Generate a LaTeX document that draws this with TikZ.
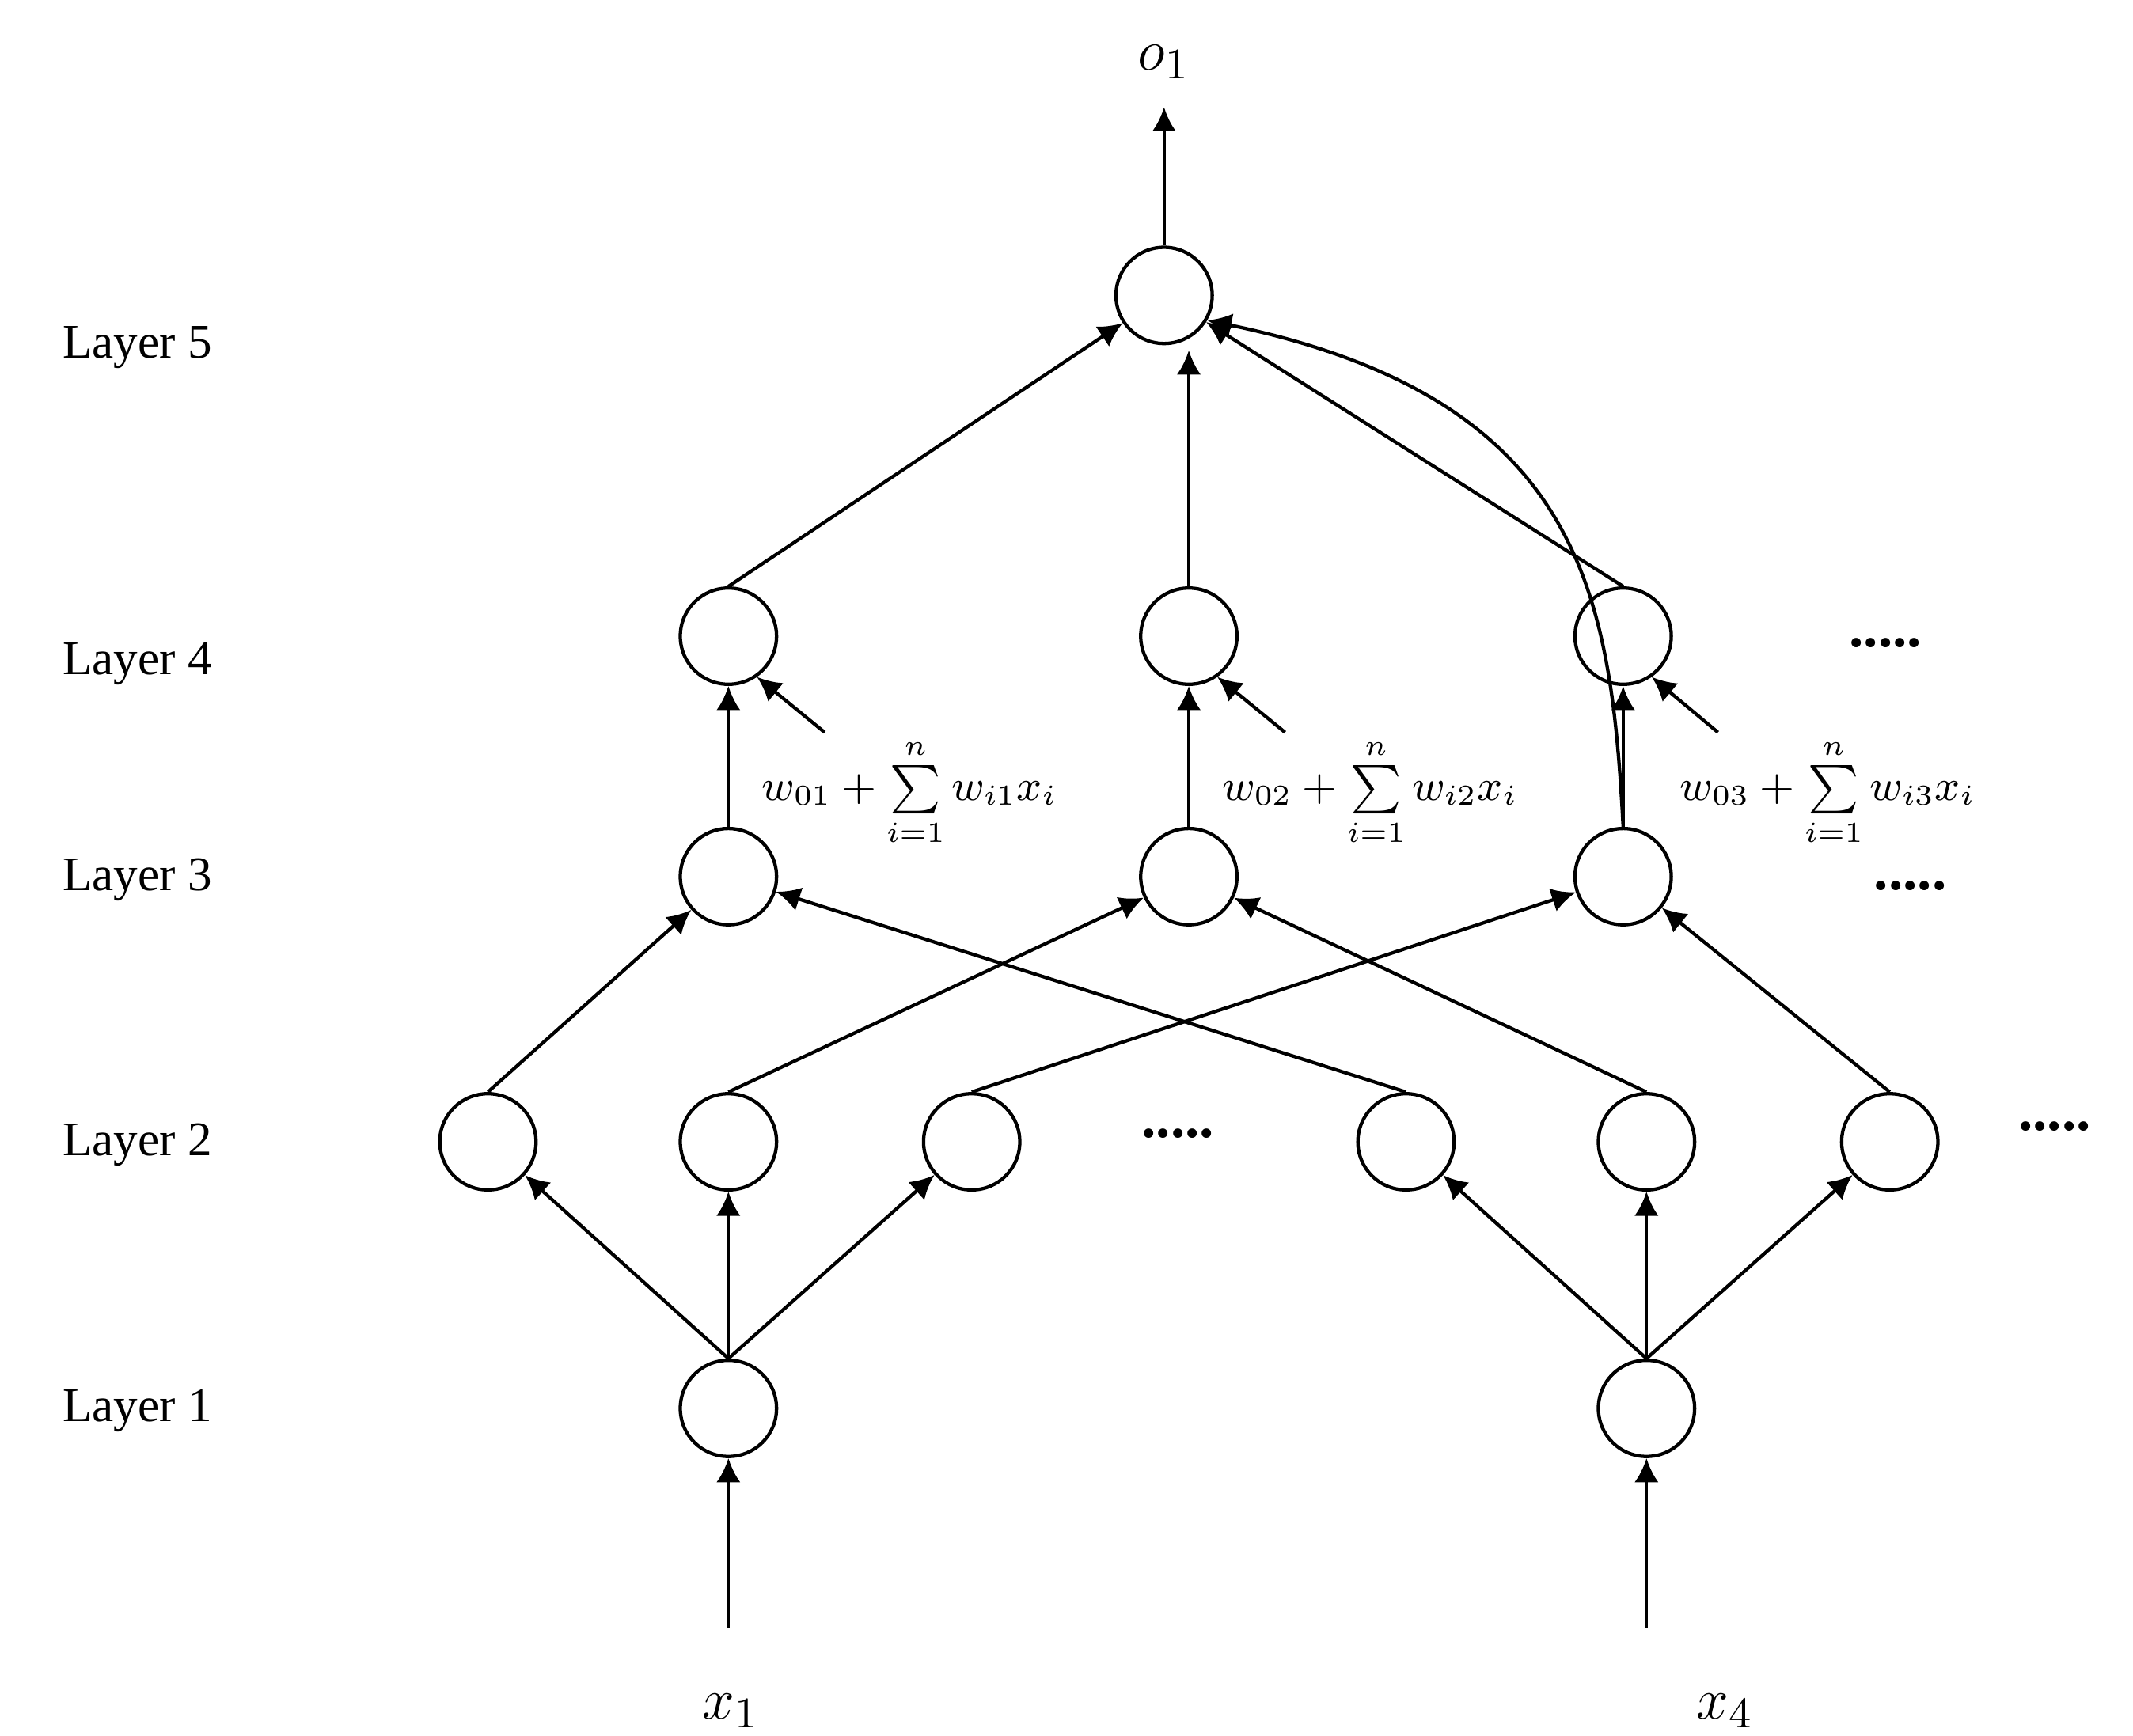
\documentclass[tikz,border=0pt]{standalone}
\usepackage{fontspec}
\setmainfont{Liberation Serif}
\usetikzlibrary{arrows.meta}
\begin{document}
\begin{tikzpicture}[x=0.01cm,y=-0.01cm,
  neuron/.style={circle,draw,line width=0.7pt,minimum size=0.7cm,inner sep=0pt},
  conn/.style={line width=0.7pt,-{Latex[length=5pt,width=5pt]}},
  lbl/.style={font=\fontsize{10}{12}\selectfont},
  fml/.style={font=\fontsize{9}{11}\selectfont},
  dotsl/.style={font=\fontsize{12}{12}\selectfont\bfseries}]
\useasboundingbox (0,0) rectangle (1552,1263);
\node[lbl] (L5) at (100,253) {Layer 5};
\node[lbl] (L4) at (100,483) {Layer 4};
\node[lbl] (L3) at (100,640) {Layer 3};
\node[lbl] (L2) at (100,833) {Layer 2};
\node[lbl] (L1) at (100,1027) {Layer 1};
\node[neuron] (o) at (847,215) {};
\node[neuron] (d1) at (530,463) {};
\node[neuron] (d2) at (865,463) {};
\node[neuron] (d3) at (1181,463) {};
\node[neuron] (c1) at (530,638) {};
\node[neuron] (c2) at (865,638) {};
\node[neuron] (c3) at (1181,638) {};
\node[neuron] (b1) at (355,831) {};
\node[neuron] (b2) at (530,831) {};
\node[neuron] (b3) at (707,831) {};
\node[neuron] (b4) at (1023,831) {};
\node[neuron] (b5) at (1198,831) {};
\node[neuron] (b6) at (1375,831) {};
\node[neuron] (a1) at (530,1025) {};
\node[neuron] (a2) at (1198,1025) {};
\coordinate (i1) at (530,1185);
\coordinate (i2) at (1198,1185);
\coordinate (top) at (847,78);
\coordinate (mid) at (865,255);
\node[lbl,font=\fontsize{13}{14}\selectfont] (x1) at (532,1245) {$x_1$};
\node[lbl,font=\fontsize{13}{14}\selectfont] (x4) at (1255,1245) {$x_4$};
\node[lbl,font=\fontsize{13}{14}\selectfont] (o1) at (847,45) {$o_1$};
\draw[conn] (i1) -- (a1);
\draw[conn] (i2) -- (a2);
\foreach \t in {b1,b2,b3} \draw[conn] (a1.north) -- (\t);
\foreach \t in {b4,b5,b6} \draw[conn] (a2.north) -- (\t);
\draw[conn] (b1.north) -- (c1);
\draw[conn] (b2.north) -- (c2);
\draw[conn] (b3.north) -- (c3);
\draw[conn] (b4.north) -- (c1);
\draw[conn] (b5.north) -- (c2);
\draw[conn] (b6.north) -- (c3);
\draw[conn] (c1) -- (d1);
\draw[conn] (c2) -- (d2);
\draw[conn] (c3) -- (d3);
\draw[conn] (d1.north) -- (o);
\draw[conn] (d2.north) -- (mid);
\draw[conn] (d3.north) -- (o);
\draw[conn] (c3.north) .. controls (1172,430) and (1150,290) .. (o.-30);
\draw[conn] (o.north) -- (top);
\coordinate (p1) at (600,533);
\coordinate (p2) at (935,533);
\coordinate (p3) at (1250,533);
\draw[conn] (p1) -- (d1.-55);
\draw[conn] (p2) -- (d2.-55);
\draw[conn] (p3) -- (d3.-55);
\node[fml] (f1) at (662,577) {$w_{01}+\sum\limits_{i=1}^{n} w_{i1}x_i$};
\node[fml] (f2) at (997,577) {$w_{02}+\sum\limits_{i=1}^{n} w_{i2}x_i$};
\node[fml] (f3) at (1330,577) {$w_{03}+\sum\limits_{i=1}^{n} w_{i3}x_i$};
\node[dotsl] (e1) at (1372,468) {.....};
\node[dotsl] (e2) at (1390,645) {.....};
\node[dotsl] (e3) at (857,825) {.....};
\node[dotsl] (e4) at (1495,820) {.....};
\end{tikzpicture}
\end{document}
